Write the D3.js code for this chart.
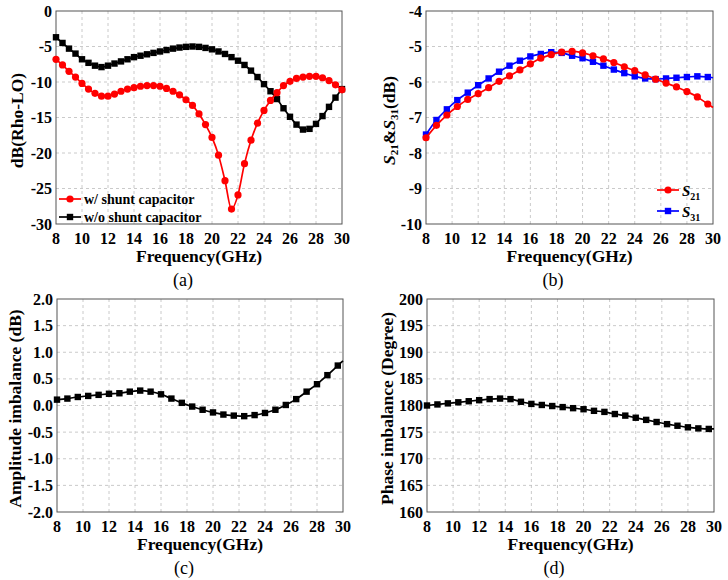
<!DOCTYPE html>
<html>
<head>
<meta charset="utf-8">
<script src="https://cdn.jsdelivr.net/npm/d3@7"></script>
<style>
  body { margin: 0; background: #fff; }
  svg { display: block; }
</style>
</head>
<body>
<div id="chart"></div>
<script>
// frequency grids (GHz)
const freqA = [8, 8.5, 9, 9.5, 10, 10.5, 11, 11.5, 12, 12.5, 13, 13.5, 14, 14.5, 15, 15.5,
  16, 16.5, 17, 17.5, 18, 18.5, 19, 19.5, 20, 20.5, 21, 21.5, 22, 22.5, 23, 23.5,
  24, 24.5, 25, 25.5, 26, 26.5, 27, 27.5, 28, 28.5, 29, 29.5, 30];
const freqB = [8, 8.8, 9.6, 10.4, 11.2, 12, 12.8, 13.6, 14.4, 15.2, 16, 16.8, 17.6, 18.4,
  19.2, 20, 20.8, 21.6, 22.4, 23.2, 24, 24.8, 25.6, 26.4, 27.2, 28, 28.8, 29.6, 30];

// (a) return loss at LO port
const withShunt = [-6.8, -7.6, -8.5, -9.3, -10.2, -11.0, -11.6, -12.0, -12.0, -11.7, -11.3, -11.0,
  -10.8, -10.6, -10.5, -10.5, -10.6, -10.9, -11.3, -11.8, -12.5, -13.3, -14.5, -16.0,
  -17.8, -20.3, -23.9, -27.9, -25.9, -21.5, -18.2, -15.8, -14.0, -12.6, -11.5, -10.5,
  -9.9, -9.5, -9.3, -9.2, -9.2, -9.4, -9.8, -10.4, -11.1];
const withoutShunt = [-3.7, -4.5, -5.3, -6.0, -6.8, -7.3, -7.7, -7.9, -7.7, -7.4, -7.1, -6.8,
  -6.5, -6.3, -6.1, -5.9, -5.7, -5.5, -5.3, -5.15, -5.05, -5.0, -5.05, -5.2,
  -5.4, -5.7, -6.05, -6.5, -7.0, -7.6, -8.4, -9.3, -10.3, -11.3, -12.4, -13.7,
  -14.9, -16.0, -16.7, -16.6, -15.9, -14.8, -13.5, -12.2, -11.0];

// (b) transmission
const s21 = [-7.57, -7.22, -6.93, -6.69, -6.49, -6.33, -6.16, -5.98, -5.83, -5.66, -5.49, -5.33,
  -5.23, -5.16, -5.14, -5.18, -5.26, -5.35, -5.45, -5.57, -5.68, -5.80, -5.92, -6.03,
  -6.14, -6.27, -6.42, -6.62, -6.72];
const s31 = [-7.48, -7.07, -6.77, -6.51, -6.30, -6.09, -5.90, -5.71, -5.54, -5.40, -5.28, -5.21,
  -5.16, -5.18, -5.26, -5.33, -5.43, -5.54, -5.65, -5.75, -5.84, -5.90, -5.92, -5.90,
  -5.88, -5.86, -5.84, -5.86, -5.88];

// (c) amplitude imbalance, (d) phase imbalance
const ampImb = [0.11, 0.13, 0.16, 0.18, 0.20, 0.22, 0.23, 0.26, 0.28, 0.26, 0.21, 0.13,
  0.05, -0.02, -0.08, -0.13, -0.17, -0.19, -0.20, -0.18, -0.14, -0.08, 0.01, 0.12,
  0.26, 0.40, 0.57, 0.75, 0.84];
const phaseImb = [180.0, 180.2, 180.4, 180.6, 180.8, 181.0, 181.2, 181.3, 181.2, 180.7, 180.3, 180.1,
  179.9, 179.7, 179.5, 179.3, 179.0, 178.8, 178.4, 178.1, 177.7, 177.3, 176.9, 176.5,
  176.2, 175.9, 175.7, 175.6, 175.6];

const xTicks = [8, 10, 12, 14, 16, 18, 20, 22, 24, 26, 28, 30];
const yTicksA = [0, -5, -10, -15, -20, -25, -30];
const yTicksB = [-4, -5, -6, -7, -8, -9, -10];
const yTicksC = [2.0, 1.5, 1.0, 0.5, 0.0, -0.5, -1.0, -1.5, -2.0];
const yTicksD = [200, 195, 190, 185, 180, 175, 170, 165, 160];

const FONT = "'Liberation Serif', 'DejaVu Serif', serif";

const svg = d3.select('#chart').append('svg')
  .attr('width', 728)
  .attr('height', 580)
  .attr('font-family', FONT);

// draws one sub-panel frame, grid, axes, titles; returns scales
function panel(p) {
  const x = d3.scaleLinear().domain([8, 30]).range([p.x0, p.x1]);
  const y = d3.scaleLinear().domain(p.yDomain).range([p.y1, p.y0]);
  const g = svg.append('g');

  // grid
  g.selectAll('.gx').data(xTicks.slice(1, -1)).enter().append('line')
    .attr('x1', d => x(d)).attr('x2', d => x(d))
    .attr('y1', p.y0).attr('y2', p.y1)
    .attr('stroke', '#bdbdbd').attr('stroke-width', 0.8).attr('stroke-dasharray', '3,3');
  g.selectAll('.gy').data(p.yTicks.slice(1, -1)).enter().append('line')
    .attr('x1', p.x0).attr('x2', p.x1)
    .attr('y1', d => y(d)).attr('y2', d => y(d))
    .attr('stroke', '#bdbdbd').attr('stroke-width', 0.8).attr('stroke-dasharray', '3,3');

  // frame
  g.append('rect')
    .attr('x', p.x0).attr('y', p.y0)
    .attr('width', p.x1 - p.x0).attr('height', p.y1 - p.y0)
    .attr('fill', 'none').attr('stroke', '#555').attr('stroke-width', 1);

  // tick labels
  g.selectAll('.xt').data(xTicks).enter().append('text')
    .attr('x', d => x(d)).attr('y', p.y1 + 20)
    .attr('text-anchor', 'middle')
    .style('font-family', FONT)
    .style('font-size', '16px').style('font-weight', 'bold')
    .text(d => d);
  g.selectAll('.yt').data(p.yTicks).enter().append('text')
    .attr('x', p.x0 - 4).attr('y', d => y(d))
    .attr('dy', '0.35em')
    .attr('text-anchor', 'end')
    .style('font-family', FONT)
    .style('font-size', '16px').style('font-weight', 'bold')
    .text(p.fmt);

  // axis titles
  g.append('text')
    .attr('x', (p.x0 + p.x1) / 2).attr('y', p.y1 + 38)
    .attr('text-anchor', 'middle')
    .style('font-family', FONT)
    .style('font-size', '17.5px').style('font-weight', 'bold')
    .text('Frequency(GHz)');
  const yt = g.append('text')
    .attr('transform', `translate(${p.ytx}, ${(p.y0 + p.y1) / 2 + 3}) rotate(-90)`)
    .attr('text-anchor', 'middle')
    .attr('dominant-baseline', 'central')
    .style('font-family', FONT)
    .style('font-size', '17.5px').style('font-weight', 'bold');
  if (p.yTitle) yt.text(p.yTitle);
  else p.yTitleFn(yt);

  // panel letter
  g.append('text')
    .attr('x', p.lx).attr('y', p.y1 + 62)
    .attr('text-anchor', 'middle')
    .style('font-family', FONT)
    .style('font-size', '18px')
    .text(p.letter);

  return { x, y, g };
}

function drawSeries(sc, freq, vals, color, shape, maxMarkF) {
  const pts = freq.map((f, i) => ({ f, v: vals[i] }));
  const line = d3.line().x(d => sc.x(d.f)).y(d => sc.y(d.v)).curve(d3.curveMonotoneX);
  sc.g.append('path').datum(pts)
    .attr('d', line)
    .attr('fill', 'none').attr('stroke', color).attr('stroke-width', 1.7);
  const mk = pts.filter(d => d.f <= maxMarkF);
  if (shape === 'circle') {
    sc.g.selectAll(null).data(mk).enter().append('circle')
      .attr('cx', d => sc.x(d.f)).attr('cy', d => sc.y(d.v)).attr('r', 3.6)
      .attr('fill', color);
  } else {
    sc.g.selectAll(null).data(mk).enter().append('rect')
      .attr('x', d => sc.x(d.f) - 3.2).attr('y', d => sc.y(d.v) - 3.2)
      .attr('width', 6.4).attr('height', 6.4)
      .attr('fill', color);
  }
}

function legendItem(g, x, y, color, shape, label) {
  g.append('line').attr('x1', x).attr('x2', x + 22).attr('y1', y).attr('y2', y)
    .attr('stroke', color).attr('stroke-width', 1.7);
  if (shape === 'circle') {
    g.append('circle').attr('cx', x + 11).attr('cy', y).attr('r', 3.6).attr('fill', color);
  } else {
    g.append('rect').attr('x', x + 7.8).attr('y', y - 3.2)
      .attr('width', 6.4).attr('height', 6.4).attr('fill', color);
  }
  const t = g.append('text').attr('x', x + 25).attr('y', y).attr('dy', '0.35em')
    .style('font-family', FONT)
    .style('font-weight', 'bold');
  label(t);
}

// (a)
const A = panel({ x0: 56, x1: 342, y0: 11, y1: 224, yDomain: [-30, 0], yTicks: yTicksA,
  fmt: d => String(d), ytx: 17, yTitle: 'dB(Rho-LO)', letter: '(a)', lx: 183 });
drawSeries(A, freqA, withoutShunt, '#000', 'square', 30);
drawSeries(A, freqA, withShunt, '#ff0000', 'circle', 30);
legendItem(A.g, 59, 199, '#ff0000', 'circle', t => t.style('font-size', '14px').text('w/ shunt capacitor'));
legendItem(A.g, 59, 217, '#000', 'square', t => t.style('font-size', '14px').text('w/o shunt capacitor'));

// (b)
const B = panel({ x0: 426, x1: 713, y0: 11, y1: 224, yDomain: [-10, -4], yTicks: yTicksB,
  fmt: d => String(d), ytx: 389, letter: '(b)', lx: 553,
  yTitleFn: t => {
    t.append('tspan').style('font-style', 'italic').text('S');
    t.append('tspan').style('font-size', '11px').attr('dy', 5).text('21');
    t.append('tspan').attr('dy', -5).text('&');
    t.append('tspan').style('font-style', 'italic').text('S');
    t.append('tspan').style('font-size', '11px').attr('dy', 5).text('31');
    t.append('tspan').attr('dy', -5).text('(dB)');
  } });
drawSeries(B, freqB, s31, '#0000ff', 'square', 29.6);
drawSeries(B, freqB, s21, '#ff0000', 'circle', 29.6);
legendItem(B.g, 657, 190, '#ff0000', 'circle', t => {
  t.append('tspan').style('font-style', 'italic').style('font-size', '15px').text('S');
  t.append('tspan').style('font-size', '10px').attr('dy', 4).text('21');
});
legendItem(B.g, 657, 211, '#0000ff', 'square', t => {
  t.append('tspan').style('font-style', 'italic').style('font-size', '15px').text('S');
  t.append('tspan').style('font-size', '10px').attr('dy', 4).text('31');
});

// (c)
const C = panel({ x0: 57, x1: 343, y0: 299, y1: 512, yDomain: [-2, 2], yTicks: yTicksC,
  fmt: d => d.toFixed(1), ytx: 15, yTitle: 'Amplitude imbalance (dB)', letter: '(c)', lx: 184 });
drawSeries(C, freqB, ampImb, '#000', 'square', 29.6);

// (d)
const D = panel({ x0: 427, x1: 714, y0: 299, y1: 512, yDomain: [160, 200], yTicks: yTicksD,
  fmt: d => String(d), ytx: 387, yTitle: 'Phase imbalance (Degree)', letter: '(d)', lx: 554 });
drawSeries(D, freqB, phaseImb, '#000', 'square', 29.6);
</script>
</body>
</html>
